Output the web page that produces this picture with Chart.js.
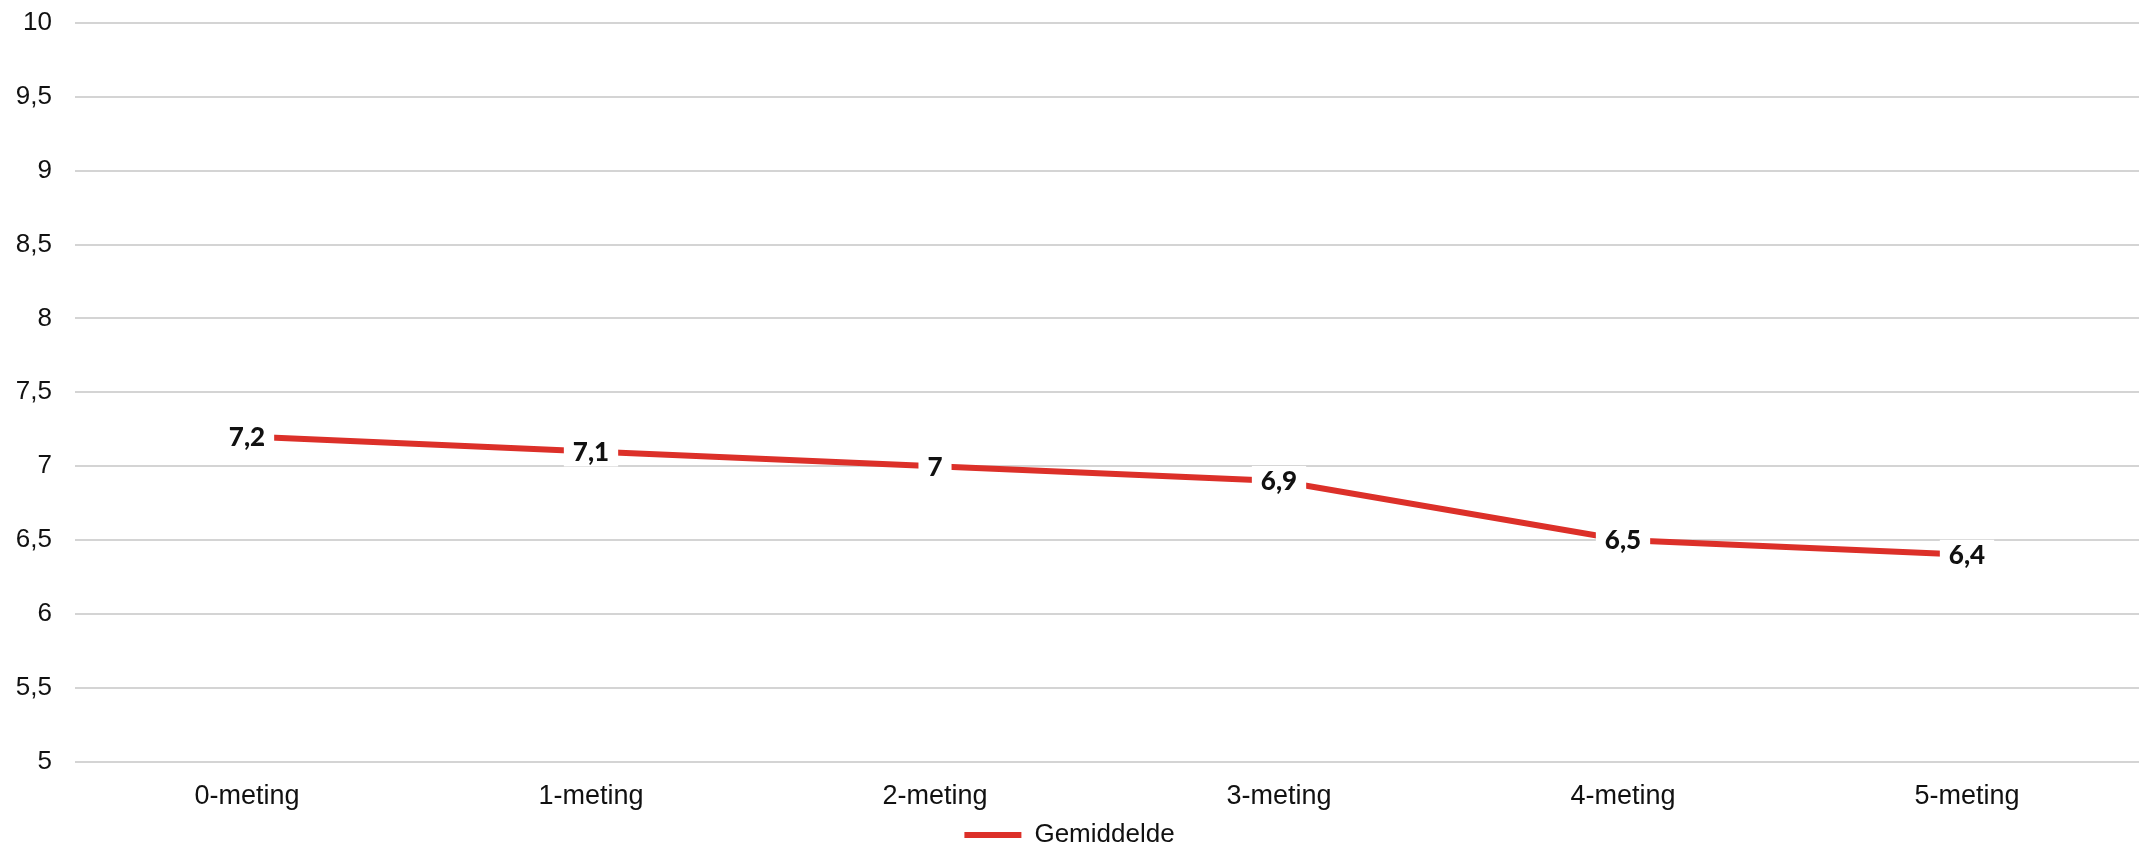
<!DOCTYPE html>
<html>
<head>
<meta charset="utf-8">
<script src="https://cdn.jsdelivr.net/npm/chart.js@4.4.1/dist/chart.umd.min.js"></script>
<style>
html,body{margin:0;padding:0;background:#fff;}
#wrap{width:2139px;height:844px;position:relative;}
</style>
</head>
<body>
<div id="wrap"><canvas id="c" width="2139" height="844"></canvas></div>
<script>
const categories = ['0-meting','1-meting','2-meting','3-meting','4-meting','5-meting'];
const gemiddelde = [7.2, 7.1, 7.0, 6.9, 6.5, 6.4];
const seriesName = 'Gemiddelde';
const yMin = 5, yMax = 10, yStep = 0.5;

const fmt = v => String(v).replace('.', ',');

const labelPlugin = {
  id: 'pointLabels',
  afterDatasetsDraw(chart) {
    const ctx = chart.ctx;
    const meta = chart.getDatasetMeta(0);
    ctx.save();
    ctx.font = '900 26px Lato, "Open Sans", sans-serif';
    ctx.textAlign = 'center';
    ctx.textBaseline = 'middle';
    meta.data.forEach((pt, i) => {
      const txt = fmt(chart.data.datasets[0].data[i]);
      const w = ctx.measureText(txt).width;
      ctx.fillStyle = '#ffffff';
      ctx.fillRect(pt.x - w/2 - 9, pt.y - 15, w + 18, 30);
      ctx.fillStyle = '#111111';
      ctx.fillText(txt, pt.x, pt.y + 1);
    });
    ctx.restore();
  }
};

new Chart(document.getElementById('c'), {
  type: 'line',
  data: {
    labels: categories,
    datasets: [{
      label: seriesName,
      data: gemiddelde,
      borderColor: '#dc3029',
      backgroundColor: '#dc3029',
      borderWidth: 6,
      pointRadius: 0,
      pointStyle: 'line',
      tension: 0,
      fill: false
    }]
  },
  options: {
    responsive: false,
    animation: false,
    devicePixelRatio: 1,
    layout: { padding: { top: 23, right: 0, left: 0, bottom: -14 } },
    plugins: {
      tooltip: { enabled: false },
      legend: {
        position: 'bottom',
        labels: {
          usePointStyle: true,
          pointStyle: 'line',
          pointStyleWidth: 57,
          boxHeight: 26,
          padding: 0,
          color: '#111',
          font: { family: 'Arial, "Liberation Sans", sans-serif', size: 26 }
        }
      }
    },
    scales: {
      x: {
        offset: true,
        afterFit(scale) { scale.height = scale.height - 10; },
        grid: { display: false, drawTicks: false },
        border: { display: false },
        ticks: {
          padding: 19,
          color: '#111',
          font: { family: 'Arial, "Liberation Sans", sans-serif', size: 27 },
          maxRotation: 0
        }
      },
      y: {
        min: yMin, max: yMax,
        afterFit(scale) { scale.width = 75; scale.paddingTop = 0; },
        grid: { color: '#d4d4d4', lineWidth: 2, drawTicks: false },
        border: { display: false },
        ticks: {
          stepSize: yStep,
          padding: 23,
          color: '#111',
          font: { family: 'Arial, "Liberation Sans", sans-serif', size: 26 },
          callback: v => fmt(v)
        }
      }
    }
  },
  plugins: [labelPlugin]
});
</script>
</body>
</html>
